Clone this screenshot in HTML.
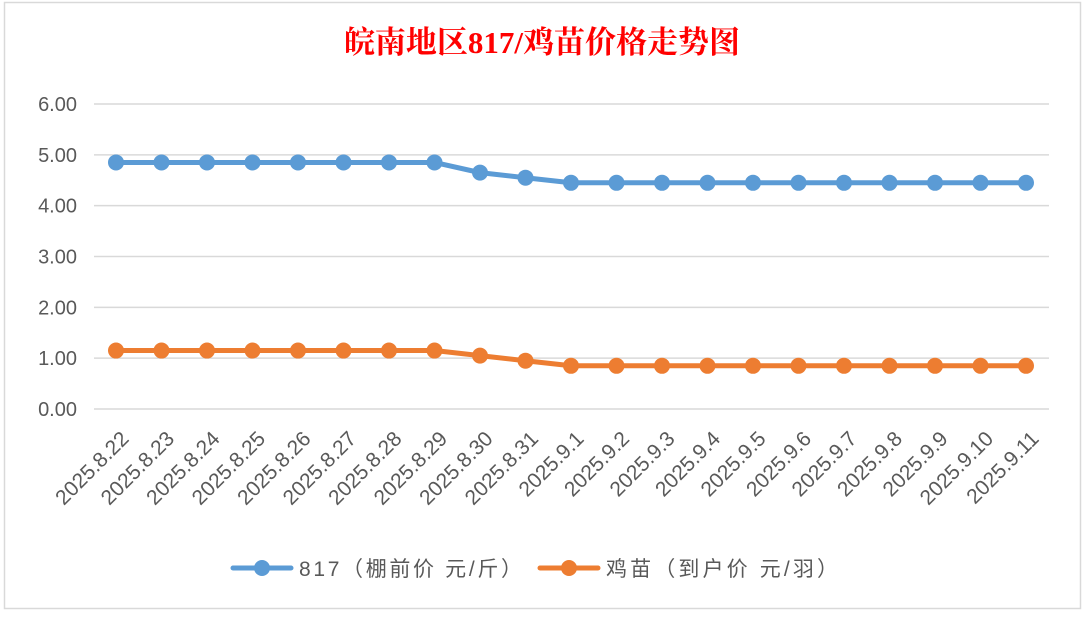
<!DOCTYPE html>
<html><head><meta charset="utf-8"><style>
html,body{margin:0;padding:0;background:#fff;}
body{width:1085px;height:614px;overflow:hidden;position:relative;font-family:"Liberation Sans","Noto Sans CJK SC",sans-serif;}
</style></head><body>
<svg width="1085" height="614" xmlns="http://www.w3.org/2000/svg">
<rect x="4.5" y="2.5" width="1076" height="606" fill="#fff" stroke="#d9d9d9" stroke-width="1.5"/>
<text x="542" y="53" text-anchor="middle" fill="#ff0000" font-size="31" font-weight="bold" font-family="'Liberation Serif','Noto Serif CJK SC',serif">皖南地区817/鸡苗价格走势图</text>
<g id="grid"></g><g id="ylab"></g><g id="xlab"></g><g id="series"></g>
<g font-size="21" fill="#595959" font-family="'Liberation Sans','Noto Sans CJK SC',sans-serif">
<g>
<line x1="233" y1="568" x2="291" y2="568" stroke="#5b9bd5" stroke-width="5" stroke-linecap="round"/>
<circle cx="262" cy="568" r="8" fill="#5b9bd5"/>
<text x="299" y="576" textLength="223" lengthAdjust="spacing">817（棚前价 元/斤）</text></g>
<g>
<line x1="540" y1="568" x2="598" y2="568" stroke="#ed7d31" stroke-width="5" stroke-linecap="round"/>
<circle cx="569" cy="568" r="8" fill="#ed7d31"/>
<text x="606" y="576" textLength="232" lengthAdjust="spacing">鸡苗（到户价 元/羽）</text></g>
</g>
</svg>
<script>
const categories=["2025.8.22","2025.8.23","2025.8.24","2025.8.25","2025.8.26","2025.8.27","2025.8.28","2025.8.29","2025.8.30","2025.8.31","2025.9.1","2025.9.2","2025.9.3","2025.9.4","2025.9.5","2025.9.6","2025.9.7","2025.9.8","2025.9.9","2025.9.10","2025.9.11"];
const series817=[4.85,4.85,4.85,4.85,4.85,4.85,4.85,4.85,4.65,4.55,4.45,4.45,4.45,4.45,4.45,4.45,4.45,4.45,4.45,4.45,4.45];
const seriesChick=[1.15,1.15,1.15,1.15,1.15,1.15,1.15,1.15,1.05,0.95,0.85,0.85,0.85,0.85,0.85,0.85,0.85,0.85,0.85,0.85,0.85];
const yTicks=[0,1,2,3,4,5,6];
const NS="http://www.w3.org/2000/svg";
const x0=116,x1=1026,yBase=409,yTop=104,yMax=6;
const xs=i=>x0+(x1-x0)*i/(categories.length-1);
const ys=v=>yBase-(yBase-yTop)*v/yMax;
function mk(t,a,p){const e=document.createElementNS(NS,t);for(const k in a)e.setAttribute(k,a[k]);p.appendChild(e);return e;}
const grid=document.getElementById('grid'),yl=document.getElementById('ylab'),xl=document.getElementById('xlab'),sg=document.getElementById('series');
yTicks.forEach(v=>{
 const l=mk('line',{x1:94,x2:1049,y1:ys(v),y2:ys(v),stroke:'#d9d9d9','stroke-width':1.5},grid);
 
 
 const t=mk('text',{x:77,y:ys(v)+7,'text-anchor':'end','font-size':20,fill:'#595959'},yl);
 t.textContent=v.toFixed(2);
 
 
});
categories.forEach((c,i)=>{
 const x=xs(i)+14,y=440;
 const t=mk('text',{x:x,y:y,'text-anchor':'end','font-size':21,fill:'#595959',transform:`rotate(-45 ${x} ${y})`},xl);
 t.textContent=c;
 
 
});
function draw(arr,color,name){
 const p=mk('polyline',{points:arr.map((v,i)=>xs(i)+','+ys(v)).join(' '),fill:'none',stroke:color,'stroke-width':5,'stroke-linejoin':'round'},sg);
 
 
 arr.forEach((v,i)=>{
  const c=mk('circle',{cx:xs(i),cy:ys(v),r:8,fill:color},sg);
  
  
 });
}
draw(series817,'#5b9bd5','series-817');
draw(seriesChick,'#ed7d31','series-chick');
</script>
</body></html>
